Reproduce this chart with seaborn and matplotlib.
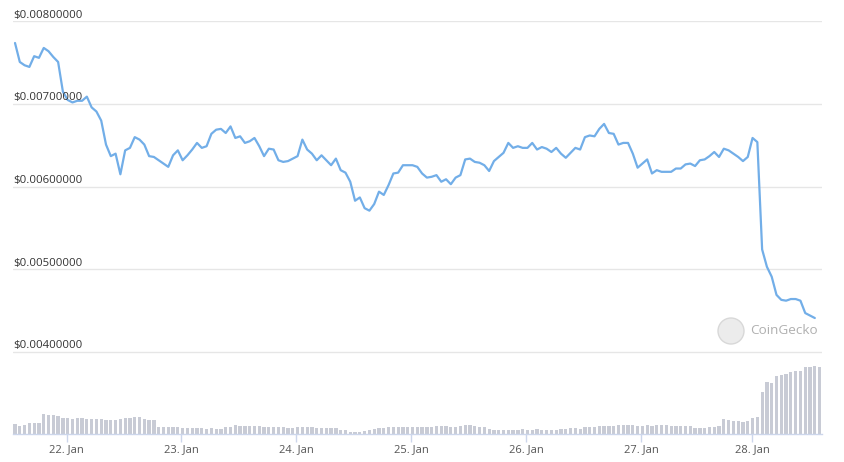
import numpy as np
import seaborn as sns
import matplotlib.pyplot as plt
from matplotlib.patches import Ellipse

# hourly price (USD)
price = [
    0.00774, 0.00751, 0.00747, 0.00745, 0.00758, 0.00756, 0.00768, 0.00764, 0.00757, 0.00751,
    0.00715, 0.00705, 0.00702, 0.00704, 0.00704, 0.00709, 0.00696, 0.00691, 0.00680, 0.00651,
    0.00637, 0.00640, 0.00615, 0.00644, 0.00647, 0.00660, 0.00657, 0.00651, 0.00637, 0.00636,
    0.00632, 0.00628, 0.00624, 0.00638, 0.00644, 0.00632, 0.00638, 0.00645, 0.00653, 0.00647,
    0.00649, 0.00664,
    0.00669, 0.00670, 0.00665, 0.00673, 0.00659, 0.00661, 0.00653, 0.00655, 0.00659, 0.00649,
    0.00637, 0.00646, 0.00645, 0.00632, 0.00630, 0.00631, 0.00634, 0.00637, 0.00657, 0.00645,
    0.00640, 0.00632, 0.00638, 0.00632, 0.00626, 0.00634, 0.00620, 0.00617, 0.00606, 0.00583,
    0.00587, 0.00574, 0.00571, 0.00579, 0.00594, 0.00590, 0.00602, 0.00616, 0.00617, 0.00626,
    0.00626,
    0.00626, 0.00624, 0.00616, 0.00611, 0.00612, 0.00614, 0.00606, 0.00609, 0.00603, 0.00611,
    0.00614, 0.00633, 0.00634, 0.00630, 0.00629, 0.00626, 0.00619, 0.00631, 0.00636, 0.00641,
    0.00653, 0.00647, 0.00649, 0.00647, 0.00647, 0.00653, 0.00645, 0.00648, 0.00646, 0.00642,
    0.00647, 0.00640, 0.00635, 0.00641, 0.00647, 0.00645, 0.00660, 0.00662, 0.00661, 0.00670,
    0.00676, 0.00665,
    0.00664, 0.00651, 0.00653, 0.00653, 0.00640, 0.00623, 0.00628, 0.00633, 0.00616, 0.00620,
    0.00618, 0.00618, 0.00618, 0.00622, 0.00622, 0.00627, 0.00628, 0.00625, 0.00632, 0.00633,
    0.00637, 0.00642, 0.00636, 0.00646, 0.00644, 0.00640, 0.00636, 0.00631, 0.00636, 0.00659,
    0.00654, 0.00524, 0.00503, 0.00491, 0.00469, 0.00463, 0.00462, 0.00464, 0.00464, 0.00462,
    0.00447, 0.00444, 0.00441,
]

# hourly volume (relative units)
volume = [
    10, 8, 9, 11, 11, 11, 20, 19, 19, 18,
    16, 16, 15, 16, 16, 15, 15, 15, 15, 14,
    14, 14, 15, 16, 16, 17, 17, 15, 14, 14,
    7, 7, 7, 7, 7, 6, 6, 6, 6, 6,
    5, 6, 5, 5, 7, 7, 9, 8, 8, 8,
    8, 8, 7, 7, 7, 7, 7, 6, 6, 7,
    7, 7, 7, 6, 6, 6, 6, 6, 4, 4,
    2, 2, 2, 3, 4, 5, 6, 6, 7, 7,
    7, 7, 7, 7,
    7, 7, 7, 7, 8, 8, 8, 7, 7, 8,
    9, 9, 8, 7, 7, 5, 4, 4, 4, 4,
    4, 4, 5, 4, 4, 5, 4, 4, 4, 4,
    5, 5, 6, 6, 5, 7, 7, 7, 8, 8,
    8, 8, 9, 9, 9, 9, 8, 8, 9, 8,
    9, 9, 9, 8, 8, 8, 8, 8, 6, 6,
    6, 7, 7, 8, 15, 14, 13, 13, 12, 13,
    16, 17, 42, 52, 51, 58, 59, 60, 62, 63,
    63, 67, 67, 68, 67,
]

day_labels = ["22. Jan", "23. Jan", "24. Jan", "25. Jan", "26. Jan", "27. Jan", "28. Jan"]
# ordinal axis: position of each midnight in points
day_pos = [10.8, 34.7, 58.7, 82.7, 106.7, 130.7, 153.9]
price_ticks = [0.004, 0.005, 0.006, 0.007, 0.008]

sns.set_theme(style="white")
plt.rcParams['font.family'] = ['Open Sans', 'DejaVu Sans']

fig = plt.figure(figsize=(8.44, 4.62), dpi=100)
ax = fig.add_axes([13/844, 28/462, 809/844, 413/462])
ax2 = ax.twinx()

x_vol = np.arange(len(volume))
x_price = np.arange(len(price))

sns.barplot(x=x_vol, y=volume, native_scale=True, ax=ax2, color="#c8cbd5",
            saturation=1, width=0.68, errorbar=None, linewidth=0, edgecolor="none")
sns.lineplot(x=x_price, y=price, ax=ax, color="#72aee8", linewidth=1.6)

ax.set_zorder(ax2.get_zorder() + 1)
ax.patch.set_visible(False)

ax.set_xlim(-0.42, 168.5)
ax.set_ylim(0.003006, 0.008006)
ax2.set_ylim(0, max(volume) * 413 / 68)

ax.set_yticks(price_ticks)
ax.yaxis.grid(True, color="#e6e6e6", linewidth=1)
ax.tick_params(axis='y', left=False, labelleft=False)
ax2.set_yticks([])
ax2.set_ylabel("")

ax.set_xticks(day_pos)
ax.set_xticklabels(day_labels)
ax.tick_params(axis='x', bottom=True, length=6, width=1, color="#ccd6eb",
               labelsize=8, labelcolor="#555555", pad=1.5)
ax.set_xlabel("")
ax.set_ylabel("")

for a in (ax, ax2):
    for s in ("top", "left", "right", "bottom"):
        a.spines[s].set_visible(False)
ax.spines["bottom"].set_visible(True)
ax.spines["bottom"].set_color("#ccd6eb")
ax.spines["bottom"].set_linewidth(1)

for v in price_ticks:
    ax.annotate(f"${v:.8f}", xy=(0, v), xycoords=('axes fraction', 'data'),
                xytext=(0, 0.5), textcoords='offset points', ha='left', va='bottom',
                fontsize=8.2, color="#333333")

# CoinGecko watermark
fig.add_artist(Ellipse((731/844, 1 - 331/462), width=26/844, height=26/462,
                       transform=fig.transFigure, facecolor="#ececec",
                       edgecolor="#d8d8d8", linewidth=1))
fig.text(750/844, 1 - 331/462, "CoinGecko", ha='left', va='center',
         fontsize=9.7, color="#b0b0b0")

fig.savefig("out.png", dpi=100)
